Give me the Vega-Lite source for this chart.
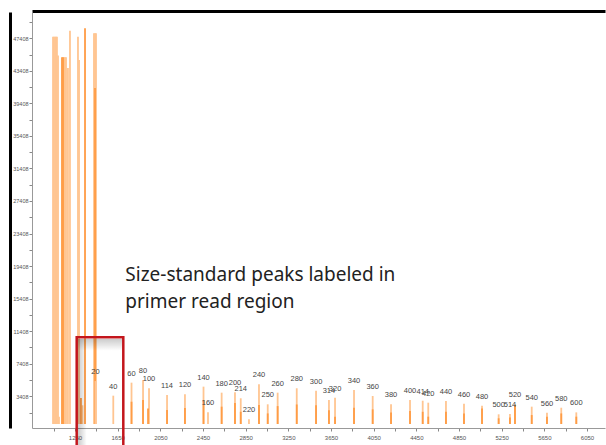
{
  "$schema": "https://vega.github.io/schema/vega-lite/v6.json",
  "autosize": "none",
  "width": 573,
  "height": 416,
  "padding": {"left": 32, "top": 12, "right": 1, "bottom": 17},
  "background": "white",
  "config": {"view": {"stroke": null}},
  "datasets": {
    "peaks": [
      {"pos": 1044, "h": 47600, "dye": "light"},
      {"pos": 1053, "h": 47600, "dye": "light"},
      {"pos": 1063, "h": 47600, "dye": "light"},
      {"pos": 1072, "h": 47600, "dye": "light"},
      {"pos": 1081, "h": 47600, "dye": "light"},
      {"pos": 1091, "h": 45300, "dye": "light"},
      {"pos": 1100, "h": 900, "dye": "light"},
      {"pos": 1147, "h": 45070, "dye": "light"},
      {"pos": 1156, "h": 45070, "dye": "light"},
      {"pos": 1166, "h": 45070, "dye": "light"},
      {"pos": 1184, "h": 43750, "dye": "light"},
      {"pos": 1203, "h": 48340, "dye": "light"},
      {"pos": 1278, "h": 47600, "dye": "light"},
      {"pos": 1288, "h": 44730, "dye": "light"},
      {"pos": 1320, "h": 2300, "dye": "light"},
      {"pos": 1428, "h": 48020, "dye": "light"},
      {"pos": 1438, "h": 48020, "dye": "light"},
      {"pos": 1447, "h": 48020, "dye": "light"},
      {"pos": 1128, "h": 45070, "dye": "dark"},
      {"pos": 1138, "h": 45070, "dye": "dark"},
      {"pos": 1344, "h": 48630, "dye": "dark"},
      {"pos": 1438, "h": 41300, "dye": "dark"},
      {"pos": 1306, "h": 3200, "dye": "dark"},
      {"pos": 1442, "h": 5280, "dye": "light", "lab": "20"},
      {"pos": 1609, "h": 3480, "dye": "light", "lab": "40"},
      {"pos": 1780, "h": 5080, "dye": "light", "lab": "60"},
      {"pos": 1888, "h": 5400, "dye": "light", "lab": "80"},
      {"pos": 1944, "h": 4390, "dye": "light", "lab": "100"},
      {"pos": 2113, "h": 3560, "dye": "light", "lab": "114"},
      {"pos": 2281, "h": 3650, "dye": "light", "lab": "120"},
      {"pos": 2455, "h": 4590, "dye": "light", "lab": "140"},
      {"pos": 2497, "h": 1430, "dye": "light", "lab": "160"},
      {"pos": 2625, "h": 3850, "dye": "light", "lab": "180"},
      {"pos": 2750, "h": 3890, "dye": "light", "lab": "200"},
      {"pos": 2804, "h": 3160, "dye": "light", "lab": "214"},
      {"pos": 2881, "h": 580, "dye": "light", "lab": "220"},
      {"pos": 2975, "h": 4880, "dye": "light", "lab": "240"},
      {"pos": 3057, "h": 2420, "dye": "light", "lab": "250"},
      {"pos": 3150, "h": 3850, "dye": "light", "lab": "260"},
      {"pos": 3329, "h": 4390, "dye": "light", "lab": "280"},
      {"pos": 3510, "h": 4100, "dye": "light", "lab": "300"},
      {"pos": 3631, "h": 2950, "dye": "light", "lab": "314"},
      {"pos": 3688, "h": 3240, "dye": "light", "lab": "320"},
      {"pos": 3866, "h": 4180, "dye": "light", "lab": "340"},
      {"pos": 4041, "h": 3440, "dye": "light", "lab": "360"},
      {"pos": 4213, "h": 2420, "dye": "light", "lab": "380"},
      {"pos": 4391, "h": 2950, "dye": "light", "lab": "400"},
      {"pos": 4510, "h": 2860, "dye": "light", "lab": "414"},
      {"pos": 4562, "h": 2620, "dye": "light", "lab": "420"},
      {"pos": 4728, "h": 2830, "dye": "light", "lab": "440"},
      {"pos": 4897, "h": 2500, "dye": "light", "lab": "460"},
      {"pos": 5066, "h": 2250, "dye": "light", "lab": "480"},
      {"pos": 5222, "h": 1190, "dye": "light", "lab": "500"},
      {"pos": 5328, "h": 1230, "dye": "light", "lab": "514"},
      {"pos": 5375, "h": 2420, "dye": "light", "lab": "520"},
      {"pos": 5532, "h": 2130, "dye": "light", "lab": "540"},
      {"pos": 5675, "h": 1390, "dye": "light", "lab": "560"},
      {"pos": 5809, "h": 2000, "dye": "light", "lab": "580"},
      {"pos": 5950, "h": 1430, "dye": "light", "lab": "600"},
      {"pos": 1780, "h": 2740, "dye": "dark"},
      {"pos": 1888, "h": 2950, "dye": "dark"},
      {"pos": 1935, "h": 1900, "dye": "dark"},
      {"pos": 2113, "h": 1720, "dye": "dark"},
      {"pos": 2281, "h": 1970, "dye": "dark"},
      {"pos": 2455, "h": 2950, "dye": "dark"},
      {"pos": 2625, "h": 2130, "dye": "dark"},
      {"pos": 2750, "h": 2580, "dye": "dark"},
      {"pos": 2804, "h": 1500, "dye": "dark"},
      {"pos": 2975, "h": 2330, "dye": "dark"},
      {"pos": 3057, "h": 1300, "dye": "dark"},
      {"pos": 3150, "h": 2200, "dye": "dark"},
      {"pos": 3329, "h": 2400, "dye": "dark"},
      {"pos": 3510, "h": 2300, "dye": "dark"},
      {"pos": 3631, "h": 1700, "dye": "dark"},
      {"pos": 3688, "h": 900, "dye": "dark"},
      {"pos": 3866, "h": 2000, "dye": "dark"},
      {"pos": 4041, "h": 1800, "dye": "dark"},
      {"pos": 4213, "h": 1400, "dye": "dark"},
      {"pos": 4391, "h": 1600, "dye": "dark"},
      {"pos": 4510, "h": 1500, "dye": "dark"},
      {"pos": 4562, "h": 900, "dye": "dark"},
      {"pos": 4728, "h": 1500, "dye": "dark"},
      {"pos": 4897, "h": 1300, "dye": "dark"},
      {"pos": 5066, "h": 1900, "dye": "dark"},
      {"pos": 5222, "h": 700, "dye": "dark"},
      {"pos": 5328, "h": 800, "dye": "dark"},
      {"pos": 5375, "h": 2300, "dye": "dark"},
      {"pos": 5532, "h": 1100, "dye": "dark"},
      {"pos": 5675, "h": 900, "dye": "dark"},
      {"pos": 5809, "h": 1300, "dye": "dark"},
      {"pos": 5950, "h": 900, "dye": "dark"}
    ],
    "box": [{"x1": 1266, "x2": 1703, "y1": 10655, "y2": -4000}],
    "shadeLeft": [{"x1": 1275, "x2": 1360, "y1": 10450, "y2": -4000}],
    "shadeTop": [{"x1": 1275, "x2": 1695, "y1": 10450, "y2": 9000}],
    "note": [{"pos": 1722, "h": 17575, "text": "Size-standard peaks labeled in\nprimer read region"}]
  },
  "resolve": {"axis": {"x": "independent", "y": "independent"}},
  "layer": [
    {
      "data": {"name": "peaks"},
      "mark": {"type": "rule", "strokeWidth": 1.8},
      "encoding": {
        "x": {
          "field": "pos", "type": "quantitative",
          "scale": {"domain": [847, 6219], "nice": false, "zero": false},
          "axis": {
            "orient": "bottom",
            "values": [1050, 1250, 1450, 1650, 1850, 2050, 2250, 2450, 2650, 2850, 3050, 3250, 3450, 3650, 3850, 4050, 4250, 4450, 4650, 4850, 5050, 5250, 5450, 5650, 5850, 6050],
            "format": "d",
            "labelExpr": "(datum.value - 1250) % 400 == 0 ? datum.label : ''",
            "labelOverlap": false,
            "labelFontSize": 6,
            "labelColor": "#555",
            "labelFont": "Liberation Sans",
            "labelPadding": 3,
            "tickSize": 3,
            "tickColor": "#888",
            "domainColor": "#999",
            "grid": false,
            "title": null
          }
        },
        "y": {
          "field": "h", "type": "quantitative",
          "scale": {"domain": [-492, 50635], "nice": false, "zero": false},
          "axis": {
            "orient": "left",
            "values": [1408, 3408, 5408, 7408, 9408, 11408, 13408, 15408, 17408, 19408, 21408, 23408, 25408, 27408, 29408, 31408, 33408, 35408, 37408, 39408, 41408, 43408, 45408, 47408, 49408],
            "format": "d",
            "labelExpr": "(datum.value - 3408) % 4000 == 0 ? datum.label : ''",
            "labelOverlap": false,
            "labelFontSize": 5.5,
            "labelColor": "#555",
            "labelFont": "Liberation Sans",
            "labelPadding": 1,
            "tickSize": 3,
            "tickColor": "#888",
            "domainColor": "#999",
            "grid": false,
            "title": null
          }
        },
        "y2": {"datum": 0},
        "color": {
          "field": "dye", "type": "nominal",
          "scale": {"domain": ["light", "dark"], "range": ["#ffc591", "#ff9c45"]},
          "legend": null
        }
      }
    },
    {
      "mark": {"type": "rule", "color": "#ffcc99", "strokeWidth": 2},
      "encoding": {"y": {"datum": 0, "type": "quantitative", "axis": null}}
    },
    {
      "data": {"name": "peaks"},
      "transform": [{"filter": "isValid(datum.lab)"}],
      "mark": {"type": "text", "fontSize": 7.5, "font": "Liberation Sans", "color": "#444", "dy": -9, "baseline": "middle"},
      "encoding": {
        "x": {"field": "pos", "type": "quantitative", "axis": {"orient": "top", "offset": 1, "domainColor": "black", "domainWidth": 3, "ticks": false, "labels": false, "grid": false, "title": null}},
        "y": {"field": "h", "type": "quantitative", "axis": {"orient": "left", "offset": 22, "domainColor": "black", "domainWidth": 3, "ticks": false, "labels": false, "grid": false, "title": null}},
        "text": {"field": "lab", "type": "nominal"}
      }
    },
    {
      "data": {"name": "shadeLeft"},
      "mark": {
        "type": "rect", "clip": false,
        "color": {"gradient": "linear", "x1": 0, "y1": 0, "x2": 1, "y2": 0, "stops": [{"offset": 0, "color": "rgba(0,0,0,0.22)"}, {"offset": 1, "color": "rgba(0,0,0,0)"}]}
      },
      "encoding": {
        "x": {"field": "x1", "type": "quantitative", "axis": null},
        "x2": {"field": "x2"},
        "y": {"field": "y1", "type": "quantitative", "axis": null},
        "y2": {"field": "y2"}
      }
    },
    {
      "data": {"name": "shadeTop"},
      "mark": {
        "type": "rect", "clip": false,
        "color": {"gradient": "linear", "x1": 0, "y1": 0, "x2": 0, "y2": 1, "stops": [{"offset": 0, "color": "rgba(0,0,0,0.2)"}, {"offset": 1, "color": "rgba(0,0,0,0)"}]}
      },
      "encoding": {
        "x": {"field": "x1", "type": "quantitative", "axis": null},
        "x2": {"field": "x2"},
        "y": {"field": "y1", "type": "quantitative", "axis": null},
        "y2": {"field": "y2"}
      }
    },
    {
      "data": {"name": "box"},
      "mark": {"type": "rect", "fill": "transparent", "stroke": "#c3161c", "strokeWidth": 2.5, "clip": false},
      "encoding": {
        "x": {"field": "x1", "type": "quantitative", "axis": null},
        "x2": {"field": "x2"},
        "y": {"field": "y1", "type": "quantitative", "axis": null},
        "y2": {"field": "y2"}
      }
    },
    {
      "data": {"name": "note"},
      "mark": {"type": "text", "font": "Noto Sans", "fontSize": 19, "color": "#222", "align": "left", "baseline": "alphabetic", "lineBreak": "\n", "lineHeight": 27},
      "encoding": {
        "x": {"field": "pos", "type": "quantitative", "axis": null},
        "y": {"field": "h", "type": "quantitative", "axis": null},
        "text": {"field": "text", "type": "nominal"}
      }
    }
  ]
}
